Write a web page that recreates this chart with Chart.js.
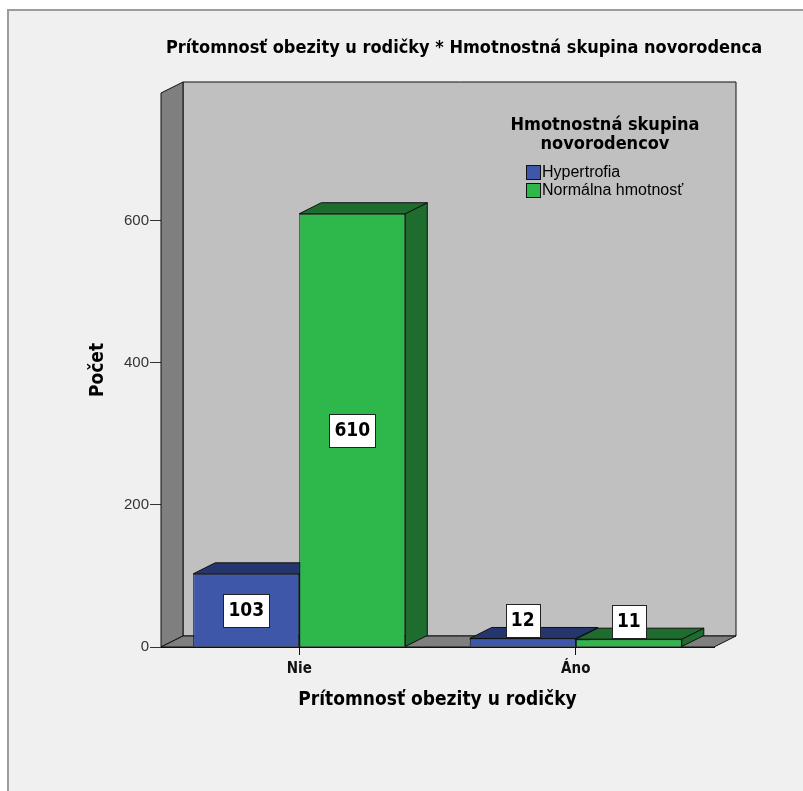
<!DOCTYPE html>
<html>
<head>
<meta charset="utf-8">
<script src="https://cdn.jsdelivr.net/npm/chart.js@4.4.1/dist/chart.umd.min.js"></script>
<style>
  body { margin: 0; background: #ffffff; }
  #wrap { position: absolute; left: 0; top: 0; width: 803px; height: 791px; }
</style>
</head>
<body>
<div id="wrap"><canvas id="bar3d" width="803" height="791"></canvas></div>
<script>
// data
const categories = ['Nie', 'Áno'];
const seriesNames = ['Hypertrofia', 'Normálna hmotnosť'];
const hypertrofia = [103, 12];
const normalnaHmotnost = [610, 11];
const yTickValues = [0, 200, 400, 600];

const chartTitle = 'Prítomnosť obezity u rodičky * Hmotnostná skupina novorodenca';
const legendTitle = ['Hmotnostná skupina', 'novorodencov'];

// colours: front face, top/side face
const faceColors = [
  { front: '#3f57a9', dark: '#25366e' },
  { front: '#2eb84c', dark: '#1f6d2e' },
];

const DEPTH_X = 22;
const DEPTH_Y = -11;
const NARROW = '"Liberation Sans Narrow", "Arial Narrow", "DejaVu Sans Condensed", sans-serif';
const SANS = '"Liberation Sans", Arial, sans-serif';

function poly(ctx, pts, fill) {
  ctx.beginPath();
  ctx.moveTo(pts[0][0], pts[0][1]);
  for (let i = 1; i < pts.length; i++) ctx.lineTo(pts[i][0], pts[i][1]);
  ctx.closePath();
  ctx.fillStyle = fill;
  ctx.fill();
  ctx.strokeStyle = '#111';
  ctx.lineWidth = 1;
  ctx.stroke();
}

// walls, floor and bar depth faces
const box3d = {
  id: 'box3d',
  beforeDraw(chart) {
    const ctx = chart.ctx;
    ctx.save();
    ctx.fillStyle = '#f0f0f0';
    ctx.fillRect(8, 10, chart.width - 8, chart.height - 10);
    ctx.strokeStyle = '#9c9c9c';
    ctx.lineWidth = 2;
    ctx.beginPath();
    ctx.moveTo(8, chart.height);
    ctx.lineTo(8, 10);
    ctx.lineTo(chart.width, 10);
    ctx.stroke();
    ctx.restore();
  },
  beforeDatasetsDraw(chart) {
    const ctx = chart.ctx;
    const a = chart.chartArea;
    const dx = DEPTH_X, dy = DEPTH_Y;
    ctx.save();
    // back wall
    poly(ctx, [[a.left + dx, a.top + dy], [a.right + dx, a.top + dy],
      [a.right + dx, a.bottom + dy], [a.left + dx, a.bottom + dy]], '#c0c0c0');
    // left wall
    poly(ctx, [[a.left, a.top], [a.left + dx, a.top + dy],
      [a.left + dx, a.bottom + dy], [a.left, a.bottom]], '#7f7f7f');
    // floor
    poly(ctx, [[a.left, a.bottom], [a.right, a.bottom],
      [a.right + dx, a.bottom + dy], [a.left + dx, a.bottom + dy]], '#7f7f7f');

    chart.data.datasets.forEach((ds, di) => {
      const meta = chart.getDatasetMeta(di);
      meta.data.forEach(bar => {
        const p = bar.getProps(['x', 'y', 'base', 'width'], true);
        const l = p.x - p.width / 2, r = p.x + p.width / 2;
        // side face
        poly(ctx, [[r, p.y], [r + dx, p.y + dy], [r + dx, p.base + dy], [r, p.base]],
          faceColors[di].dark);
        // top face
        poly(ctx, [[l, p.y], [l + dx, p.y + dy], [r + dx, p.y + dy], [r, p.y]],
          faceColors[di].dark);
      });
    });
    ctx.restore();
  },
  afterDatasetsDraw(chart) {
    const ctx = chart.ctx;
    ctx.save();
    ctx.font = 'bold 19px ' + NARROW;
    ctx.textAlign = 'center';
    ctx.textBaseline = 'middle';
    chart.data.datasets.forEach((ds, di) => {
      const meta = chart.getDatasetMeta(di);
      meta.data.forEach((bar, i) => {
        const p = bar.getProps(['x', 'y', 'base'], true);
        const txt = String(ds.data[i]);
        const w = ctx.measureText(txt).width + 10;
        const h = 33;
        let cy = (p.y + p.base) / 2;
        if (p.base - p.y < h + 8) cy = p.y - 18;
        ctx.fillStyle = '#ffffff';
        ctx.fillRect(Math.round(p.x - w / 2) + 0.5, Math.round(cy - h / 2) + 0.5, Math.round(w), h);
        ctx.strokeStyle = '#222';
        ctx.lineWidth = 1;
        ctx.strokeRect(Math.round(p.x - w / 2) + 0.5, Math.round(cy - h / 2) + 0.5, Math.round(w), h);
        ctx.fillStyle = '#000';
        ctx.fillText(txt, p.x, cy + 1);
      });
    });
    ctx.restore();
  },
  afterDraw(chart) {
    const ctx = chart.ctx;
    ctx.save();
    // title
    ctx.fillStyle = '#000';
    ctx.font = 'bold 18px ' + NARROW;
    ctx.textAlign = 'center';
    ctx.textBaseline = 'middle';
    ctx.fillText(chartTitle, 464, 48);
    // legend
    ctx.font = 'bold 18px ' + NARROW;
    legendTitle.forEach((t, i) => ctx.fillText(t, 605, 125 + i * 19));
    ctx.font = '16px ' + SANS;
    ctx.textAlign = 'left';
    chart.data.datasets.forEach((ds, i) => {
      const y = 165 + i * 18;
      ctx.fillStyle = ds.backgroundColor;
      ctx.fillRect(526.5, y + 0.5, 14, 14);
      ctx.strokeStyle = '#111';
      ctx.lineWidth = 1;
      ctx.strokeRect(526.5, y + 0.5, 14, 14);
      ctx.fillStyle = '#000';
      ctx.fillText(ds.label, 542, y + 8);
    });
    ctx.restore();
  },
};

const config = {
  type: 'bar',
  data: {
    labels: categories,
    datasets: [
      {
        label: seriesNames[0],
        data: hypertrofia,
        backgroundColor: faceColors[0].front,
        borderColor: '#111',
        borderWidth: 1,
      },
      {
        label: seriesNames[1],
        data: normalnaHmotnost,
        backgroundColor: faceColors[1].front,
        borderColor: '#111',
        borderWidth: 1,
      },
    ],
  },
  options: {
    responsive: false,
    animation: false,
    events: [],
    categoryPercentage: 0.767,
    barPercentage: 1,
    layout: {
      padding: { top: 93, right: 89, left: 0, bottom: 0 },
    },
    plugins: {
      legend: { display: false },
      title: { display: false },
      tooltip: { enabled: false },
    },
    scales: {
      x: {
        afterFit: s => { s.height = 144; },
        grid: {
          offset: false,
          drawOnChartArea: false,
          tickLength: 8,
          color: '#111',
        },
        border: { color: '#111' },
        ticks: {
          color: '#111',
          padding: 5,
          font: { family: NARROW, size: 15, weight: 'bold' },
        },
        title: {
          display: true,
          text: 'Prítomnosť obezity u rodičky',
          color: '#000',
          font: { family: NARROW, size: 19, weight: 'bold' },
          padding: { top: 0, bottom: 80 },
        },
      },
      y: {
        min: 0,
        max: 780,
        afterFit: s => { s.width = 161; },
        afterBuildTicks: s => { s.ticks = yTickValues.map(v => ({ value: v })); },
        grid: {
          drawOnChartArea: false,
          tickLength: 11,
          color: '#333',
        },
        border: { color: '#111' },
        ticks: {
          color: '#333',
          padding: 1,
          font: { family: SANS, size: 15 },
        },
        title: {
          display: true,
          text: 'Počet',
          color: '#000',
          font: { family: NARROW, size: 19, weight: 'bold' },
          padding: { top: 87, bottom: 0 },
        },
      },
    },
  },
  plugins: [box3d],
};

const bar3dChart = new Chart(document.getElementById('bar3d'), config);
</script>
</body>
</html>
